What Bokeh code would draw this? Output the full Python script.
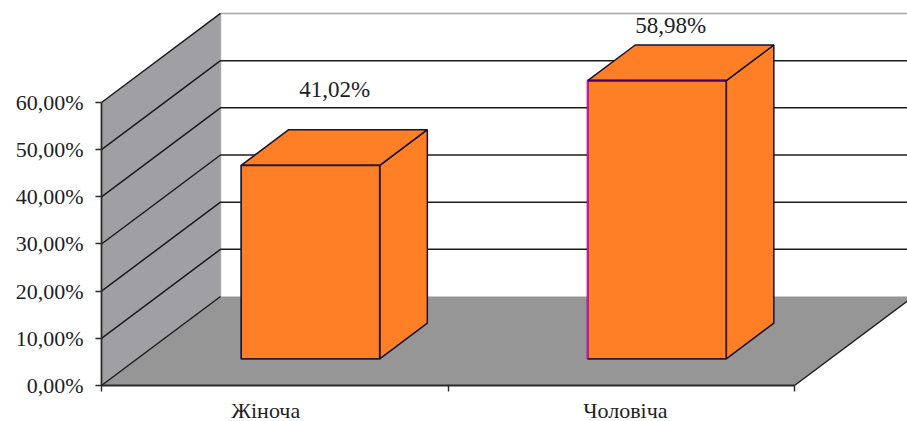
from bokeh.core.properties import value
from bokeh.embed import file_html
from bokeh.models import FixedTicker, Range1d
from bokeh.plotting import figure
from bokeh.resources import INLINE

categories = ["Жіноча", "Чоловіча"]
shares = [41.02, 58.98]
share_labels = ["41,02%", "58,98%"]
y_ticks = [0, 10, 20, 30, 40, 50, 60]
y_tick_labels = ["0,00%", "10,00%", "20,00%", "30,00%", "40,00%", "50,00%", "60,00%"]

# Scale of the chart: pixels per category and per percent
PX_PER_CAT = 346.5
PX_PER_PCT = 4.717

# Oblique projection: a point at depth d (0 front, 1 back) shifts by d * (DX, DY).
DX = 0.3434
DY = 18.87
BAR_NEAR, BAR_FAR = 0.30, 0.70
BAR_LEFT = 0.30
BAR_WIDTH = 0.40
AXIS_FONT = "22px"
LABEL_FONT = "23px"


def pt(x, y, d):
    return x + d * DX, y + d * DY


def poly(*points):
    return [q[0] for q in points], [q[1] for q in points]


# The frame fills the page; both axes are pinned to the zero lines inside it.
p = figure(
    width=907, height=421, output_backend="svg", toolbar_location=None,
    x_range=Range1d(-101 / PX_PER_CAT, 806 / PX_PER_CAT),
    y_range=Range1d(-36 / PX_PER_PCT, 385 / PX_PER_PCT),
    min_border_left=0, min_border_right=0, min_border_top=0, min_border_bottom=0,
    background_fill_color="white", border_fill_color="white", outline_line_color=None,
)
p.grid.visible = False

# Side wall and floor
xs, ys = poly(pt(0, 0, 0), pt(0, 0, 1), pt(0, 60, 1), pt(0, 60, 0))
p.patch(xs, ys, fill_color="#a0a0a4", line_color=None)
xs, ys = poly(pt(0, 0, 0), pt(2, 0, 0), pt(2, 0, 1), pt(0, 0, 1))
p.patch(xs, ys, fill_color="#969696", line_color=None)

# Back edge of the wall, top rule of the back wall
xs, ys = poly(pt(0, 0, 1), pt(0, 60, 1), pt(2, 60, 1))
p.line(xs, ys, line_color="#a8a8a8", line_width=1.5)

# Gridlines run along the side wall, then across the back wall
for t in y_ticks:
    if t in (0, 60):
        xs, ys = poly(pt(0, t, 0), pt(0, t, 1))
    else:
        xs, ys = poly(pt(0, t, 0), pt(0, t, 1), pt(2, t, 1))
    p.line(xs, ys, line_color="#1c1c1c", line_width=1.5)

# Right edge of the floor
xs, ys = poly(pt(2, 0, 0), pt(2, 0, 1))
p.line(xs, ys, line_color="#1c1c1c", line_width=1.5)

# Columns: right face, top face, front face
for i, share in enumerate(shares):
    x0 = i + BAR_LEFT
    x1 = x0 + BAR_WIDTH
    xs, ys = poly(pt(x1, 0, BAR_NEAR), pt(x1, 0, BAR_FAR), pt(x1, share, BAR_FAR), pt(x1, share, BAR_NEAR))
    p.patch(xs, ys, fill_color="#ff7f27", line_color="#1a1230", line_width=1.5)
    xs, ys = poly(pt(x0, share, BAR_NEAR), pt(x1, share, BAR_NEAR), pt(x1, share, BAR_FAR), pt(x0, share, BAR_FAR))
    p.patch(xs, ys, fill_color="#ff7f27", line_color="#1a1230", line_width=1.5)
    xs, ys = poly(pt(x0, 0, BAR_NEAR), pt(x1, 0, BAR_NEAR), pt(x1, share, BAR_NEAR), pt(x0, share, BAR_NEAR))
    p.patch(xs, ys, fill_color="#ff7f27", line_color="#2a1a30", line_width=1.8)

# The taller column has a magenta left edge and a violet front-top edge
xs, ys = poly(pt(1 + BAR_LEFT, 0, BAR_NEAR), pt(1 + BAR_LEFT, shares[1], BAR_NEAR))
p.line(xs, ys, line_color="#e000d0", line_width=1.4)
xs, ys = poly(pt(1 + BAR_LEFT, shares[1], BAR_NEAR), pt(1 + BAR_LEFT + BAR_WIDTH, shares[1], BAR_NEAR))
p.line(xs, ys, line_color="#50005a", line_width=1.8)

# Share labels above the columns
label_lift = [16.0, 11.7]
label_shift = [0.07, 0.04]
for i, share in enumerate(shares):
    x, y = pt(i + BAR_LEFT + BAR_WIDTH / 2 + label_shift[i], share + label_lift[i], BAR_NEAR)
    p.text([x], [y], text=[share_labels[i]], text_font=value("Liberation Serif"), text_font_size=LABEL_FONT,
           text_color="#1e1e1e", text_align="center", text_baseline="middle")

yax = p.yaxis[0]
yax.fixed_location = 0
yax.ticker = FixedTicker(ticks=y_ticks)
yax.major_label_overrides = dict(zip(y_ticks, y_tick_labels))
yax.bounds = (0, 60)
yax.axis_line_color = "#2a2a2a"
yax.axis_line_width = 1.8
yax.major_tick_in = 0
yax.major_tick_out = 6
yax.major_tick_line_color = "#2a2a2a"
yax.major_tick_line_width = 1.4
yax.minor_tick_line_color = None
yax.major_label_standoff = 12
yax.major_label_text_font = "Liberation Serif"
yax.major_label_text_font_size = AXIS_FONT
yax.major_label_text_color = "#1e1e1e"

# Category names sit between the tick marks, which are drawn as minor ticks
label_at = [0.474, 1.512]
xax = p.xaxis[0]
xax.fixed_location = 0
xax.ticker = FixedTicker(ticks=label_at, minor_ticks=[0, 1, 2])
xax.major_label_overrides = dict(zip(label_at, categories))
xax.bounds = (0, 2)
xax.axis_line_color = "#2a2a2a"
xax.axis_line_width = 1.8
xax.major_tick_line_color = None
xax.minor_tick_in = 0
xax.minor_tick_out = 6
xax.minor_tick_line_color = "#2a2a2a"
xax.minor_tick_line_width = 1.4
xax.major_label_standoff = 6
xax.major_label_text_font = "Liberation Serif"
xax.major_label_text_font_size = AXIS_FONT
xax.major_label_text_color = "#1e1e1e"

open("out.html", "w").write(file_html(p, INLINE))
